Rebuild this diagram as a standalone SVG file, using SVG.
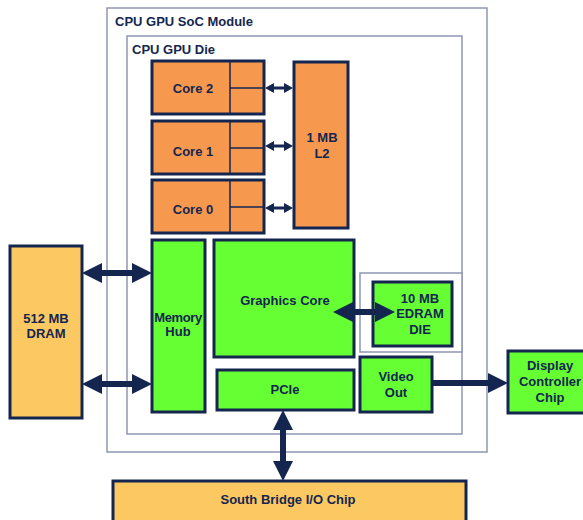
<svg xmlns="http://www.w3.org/2000/svg" width="583" height="520" viewBox="0 0 583 520">
<defs>
<style>
.frame{fill:#fff;stroke:#8e97b3;stroke-width:1.5}
.org{fill:#f7984f;stroke:#14264f;stroke-width:3}
.grn{fill:#66ff33;stroke:#14264f;stroke-width:3}
.yel{fill:#fcc862;stroke:#14264f;stroke-width:3}
.div{stroke:#14264f;stroke-width:1.5}
text{font-family:"Liberation Sans",Arial,sans-serif;font-weight:bold;fill:#14264f;font-size:13px}
.c{text-anchor:middle}
.big{stroke:#14264f;stroke-width:6;fill:none}
.sm{stroke:#14264f;stroke-width:3;fill:none}
</style>
<marker id="hb" markerUnits="userSpaceOnUse" markerWidth="20" markerHeight="20" refX="0" refY="10" orient="auto-start-reverse" overflow="visible"><path d="M0,0 L20,10 L0,20 z" fill="#14264f"/></marker>
<marker id="hs" markerUnits="userSpaceOnUse" markerWidth="9" markerHeight="10" refX="0" refY="5" orient="auto-start-reverse" overflow="visible"><path d="M0,0 L9,5 L0,10 z" fill="#14264f"/></marker>
</defs>
<rect width="583" height="520" fill="#fff"/>
<g id="soc"><rect class="frame" x="107" y="8" width="380" height="444"/><text x="115" y="26" font-size="11.5">CPU GPU SoC Module</text></g>
<g id="die"><rect class="frame" x="127" y="36" width="335" height="398"/><text x="132" y="54" font-size="11.5">CPU GPU Die</text></g>
<g id="core2"><rect class="org" x="152" y="61" width="112" height="53"/><line class="div" x1="230" y1="61" x2="230" y2="114"/><line class="div" x1="230" y1="88" x2="264" y2="88"/><text class="c" x="193" y="93">Core 2</text></g>
<g id="core1"><rect class="org" x="152" y="121" width="112" height="53"/><line class="div" x1="230" y1="121" x2="230" y2="174"/><line class="div" x1="230" y1="148" x2="264" y2="148"/><text class="c" x="193" y="156">Core 1</text></g>
<g id="core0"><rect class="org" x="152" y="180" width="112" height="53"/><line class="div" x1="230" y1="180" x2="230" y2="233"/><line class="div" x1="230" y1="207" x2="264" y2="207"/><text class="c" x="193" y="214">Core 0</text></g>
<g id="l2"><rect class="org" x="294" y="62" width="54" height="166"/><text class="c" x="322" y="142">1 MB</text><text class="c" x="322" y="158">L2</text></g>
<g id="dram"><rect class="yel" x="10" y="246" width="72" height="172"/><text class="c" x="46" y="323">512 MB</text><text class="c" x="46" y="338">DRAM</text></g>
<g id="memhub"><rect class="grn" x="152" y="240" width="53" height="172"/><text class="c" x="178" y="322" font-size="10.5" letter-spacing="-0.4">Memory</text><text class="c" x="178" y="336" font-size="10.5">Hub</text></g>
<g id="gfx"><rect class="grn" x="214" y="240" width="140" height="117"/><text class="c" x="285" y="305">Graphics Core</text></g>
<g id="edramframe"><rect class="frame" x="360" y="273" width="102" height="79"/></g>
<g id="edram"><rect class="grn" x="373" y="282" width="79" height="64"/><text class="c" x="420" y="303">10 MB</text><text class="c" x="420" y="318">EDRAM</text><text class="c" x="420" y="334">DIE</text></g>
<g id="pcie"><rect class="grn" x="217" y="370" width="137" height="40"/><text class="c" x="285" y="394">PCIe</text></g>
<g id="video"><rect class="grn" x="360" y="357" width="72" height="55"/><text class="c" x="396" y="381">Video</text><text class="c" x="396" y="397">Out</text></g>
<g id="display"><rect class="grn" x="508" y="351" width="78" height="62"/><text class="c" x="550" y="370">Display</text><text class="c" x="550" y="386">Controller</text><text class="c" x="550" y="402">Chip</text></g>
<g id="southbridge"><rect class="yel" x="113" y="481" width="353" height="45"/><text class="c" x="288" y="504">South Bridge I/O Chip</text></g>
<g id="connectors">
<line class="sm" x1="274" y1="88" x2="284" y2="88" marker-start="url(#hs)" marker-end="url(#hs)"/>
<line class="sm" x1="274" y1="146" x2="284" y2="146" marker-start="url(#hs)" marker-end="url(#hs)"/>
<line class="sm" x1="274" y1="208" x2="284" y2="208" marker-start="url(#hs)" marker-end="url(#hs)"/>
<line class="big" x1="102" y1="273" x2="132" y2="273" marker-start="url(#hb)" marker-end="url(#hb)"/>
<line class="big" x1="102" y1="384" x2="132" y2="384" marker-start="url(#hb)" marker-end="url(#hb)"/>
<line class="big" x1="353" y1="312" x2="375" y2="312" marker-start="url(#hb)" marker-end="url(#hb)"/>
<line class="big" x1="432" y1="383" x2="488" y2="383" marker-end="url(#hb)"/>
<line class="big" x1="283" y1="430" x2="283" y2="461" marker-start="url(#hb)" marker-end="url(#hb)"/>
</g>
</svg>
